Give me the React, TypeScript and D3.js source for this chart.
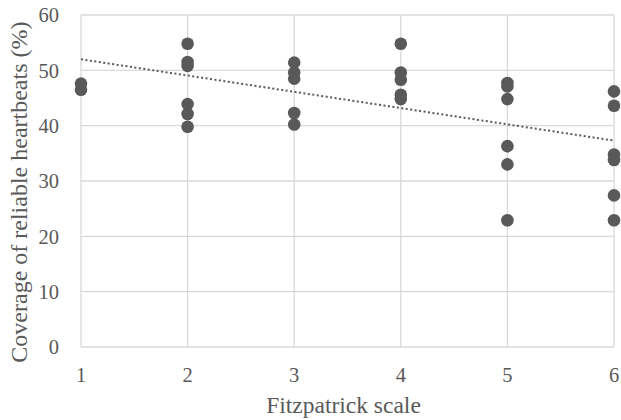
import { useMemo } from 'react'
import * as d3 from 'd3'

const WIDTH = 621
const HEIGHT = 420
const MARGIN = { top: 15, right: 7, bottom: 73, left: 81 }

// Fitzpatrick scale of each participant
const fitzpatrick = [
  1, 1,
  2, 2, 2, 2, 2, 2,
  3, 3, 3, 3, 3,
  4, 4, 4, 4, 4,
  5, 5, 5, 5, 5, 5,
  6, 6, 6, 6, 6, 6,
]

// Coverage of reliable heartbeats (%)
const coverage = [
  47.6, 46.5,
  54.8, 51.5, 50.8, 43.9, 42.1, 39.8,
  51.4, 49.6, 48.5, 42.3, 40.2,
  54.8, 49.6, 48.3, 45.6, 44.8,
  47.7, 47.1, 44.8, 36.3, 33.0, 22.9,
  46.2, 43.6, 34.8, 33.8, 27.4, 22.9,
]

// linear trendline
const trendX = [1, 6]
const trendY = [52.0, 37.3]

const xTicks = [1, 2, 3, 4, 5, 6]
const yTicks = [0, 10, 20, 30, 40, 50, 60]

const GRID = '#d9d9d9'
const MARK = '#595959'
const TEXT = '#595959'
const FONT = '"Liberation Serif", "Times New Roman", serif'

export default function App() {
  const innerWidth = WIDTH - MARGIN.left - MARGIN.right
  const innerHeight = HEIGHT - MARGIN.top - MARGIN.bottom

  const xScale = useMemo(
    () => d3.scaleLinear().domain([1, 6]).range([0, innerWidth]),
    [innerWidth]
  )
  const yScale = useMemo(
    () => d3.scaleLinear().domain([0, 60]).range([innerHeight, 0]),
    [innerHeight]
  )

  const trendPath = d3
    .line<number>()
    .x((d) => xScale(d))
    .y((_, i) => yScale(trendY[i]))(trendX)

  return (
    <svg
      width={WIDTH}
      height={HEIGHT}
      style={{ position: 'absolute', left: 0, top: 0, background: '#fff' }}
    >
      <g transform={`translate(${MARGIN.left}, ${MARGIN.top})`}>
        {/* Horizontal grid */}
        {yTicks.map((t) => (
          <line
            key={'h' + t}
            x1={0}
            x2={innerWidth}
            y1={yScale(t)}
            y2={yScale(t)}
            stroke={GRID}
            strokeWidth={1.3}
          />
        ))}

        {/* Vertical grid */}
        {xTicks.map((t) => (
          <line
            key={'v' + t}
            x1={xScale(t)}
            x2={xScale(t)}
            y1={0}
            y2={innerHeight}
            stroke={GRID}
            strokeWidth={1.3}
          />
        ))}

        {/* Points */}
        {fitzpatrick.map((f, i) => (
          <circle
            key={i}
            cx={xScale(f)}
            cy={yScale(coverage[i])}
            r={6.3}
            fill={MARK}
          />
        ))}

        {/* Trendline */}
        <path
          d={trendPath ?? ''}
          fill="none"
          stroke={MARK}
          strokeWidth={2}
          strokeDasharray="2,2.5"
        />

        {/* Y tick labels */}
        {yTicks.map((t) => (
          <text
            key={'yl' + t}
            x={-22}
            y={yScale(t)}
            dy="0.35em"
            textAnchor="end"
            fill={TEXT}
            fontSize={20.5}
            fontFamily={FONT}
          >
            {t}
          </text>
        ))}

        {/* X tick labels */}
        {xTicks.map((t) => (
          <text
            key={'xl' + t}
            x={xScale(t)}
            y={innerHeight + 28}
            dy="0.35em"
            textAnchor="middle"
            fill={TEXT}
            fontSize={20.5}
            fontFamily={FONT}
          >
            {t}
          </text>
        ))}

        {/* Axis titles */}
        <text
          x={xScale(3.5) - 4}
          y={innerHeight + 66}
          textAnchor="middle"
          fill={TEXT}
          fontSize={23.5}
          fontFamily={FONT}
        >
          Fitzpatrick scale
        </text>
        <text
          transform={`translate(${-MARGIN.left + 27}, ${yScale(28)}) rotate(-90)`}
          textAnchor="middle"
          fill={TEXT}
          fontSize={24}
          fontFamily={FONT}
        >
          Coverage of reliable heartbeats (%)
        </text>
      </g>
    </svg>
  )
}
